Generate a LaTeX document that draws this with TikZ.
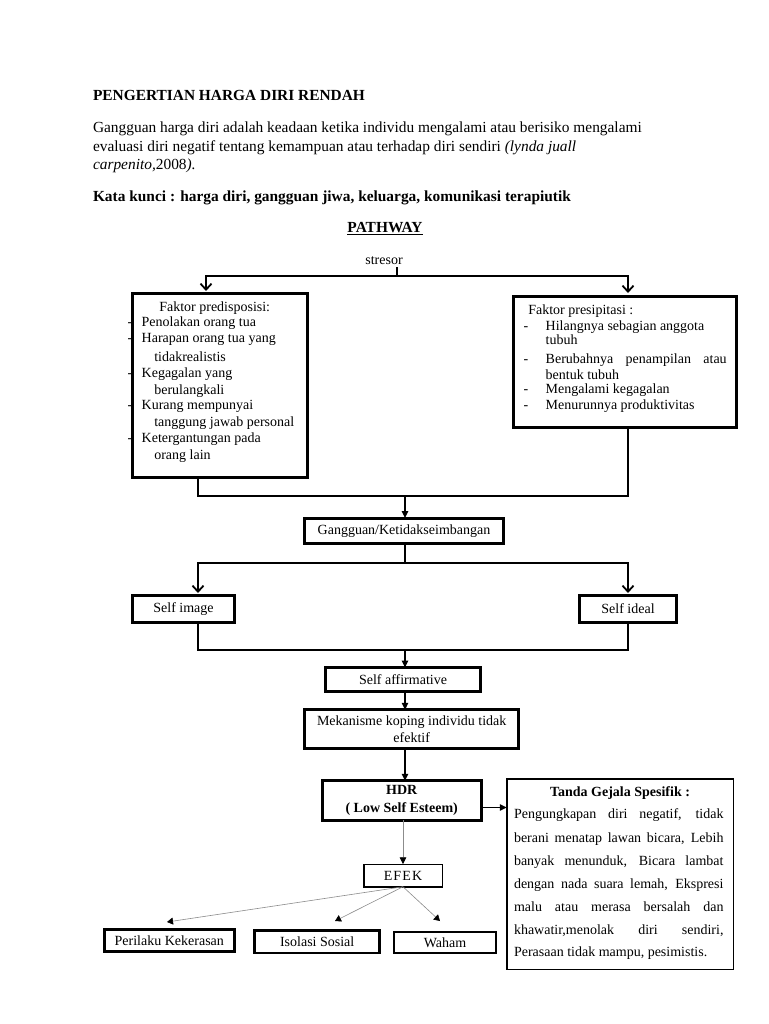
\documentclass[tikz,border=0pt]{standalone}
\usepackage{fontspec}
\setmainfont{Liberation Serif}
\usetikzlibrary{arrows.meta}
\tikzset{
  hd/.style={anchor=base west, inner sep=0pt, outer sep=0pt, font=\fontsize{15.4}{18}\selectfont},
  btxt/.style={anchor=base west, inner sep=0pt, outer sep=0pt, font=\fontsize{14}{17}\selectfont},
  thickbox/.style={draw, line width=3pt, inner sep=0pt, outer sep=0pt, align=center, font=\fontsize{14}{17.5}\selectfont},
  thinbox/.style={draw, line width=1.5pt, inner sep=0pt, outer sep=0pt, align=center, font=\fontsize{14}{17.5}\selectfont},
  conn/.style={line width=1.1pt},
  vtip/.style={conn, -{Straight Barb[length=6pt,width=11pt,line width=1.8pt]}},
  ftip/.style={conn, -{Triangle[length=7pt,width=6.5pt]}},
  gtip/.style={line width=0.9pt, draw=black!45, -{Triangle[length=7pt,width=6.5pt,color=black]}},
  etip/.style={line width=0.6pt, draw=black!45, -{Triangle[length=6pt,width=7pt,color=black]}}
}
\begin{document}
\begin{tikzpicture}[x=1pt,y=-1pt]
\fill[white] (0,0) rectangle (768,1024);
\useasboundingbox (0,0) rectangle (768,1024);

% ---------- header text ----------
\node[hd] (title) at (93,101) {\bfseries PENGERTIAN HARGA DIRI RENDAH};
\node[hd] (p1) at (93,133) {Gangguan harga diri adalah keadaan ketika individu mengalami atau berisiko mengalami};
\node[hd] (p2) at (93,152) {evaluasi diri negatif tentang kemampuan atau terhadap diri sendiri \textit{(lynda juall}};
\node[hd] (p3) at (93,170) {\textit{carpenito,}2008\textit{).}};
\node[hd] (kk) at (93,202) {\bfseries Kata kunci : harga diri, gangguan jiwa, keluarga, komunikasi terapiutik};
\node[hd, anchor=base] (pw) at (385,233) {\bfseries\underline{PATHWAY}};
\node[btxt, anchor=base] (stresor) at (384,264) {stresor};

% ---------- boxes ----------
\node[thickbox, minimum width=175pt, minimum height=184pt] (pred) at (220,385.5) {};
\node[thickbox, minimum width=223pt, minimum height=131pt] (presi) at (625,361.5) {};
\node[thickbox, minimum width=199pt, minimum height=25.5pt] (gang) at (404,530.75) {Gangguan/Ketidakseimbangan};
\node[thickbox, minimum width=102pt, minimum height=27pt] (simg) at (183.5,609) {Self image};
\node[thickbox, minimum width=97pt, minimum height=27pt] (sidl) at (628,609) {Self ideal};
\node[thickbox, line width=2.6pt, minimum width=155pt, minimum height=24pt] (saff) at (403,679.5) {Self affirmative};
\node[thickbox, minimum width=213.7pt, minimum height=38.7pt] (meka) at (411.7,729.2) {Mekanisme koping individu tidak\\efektif};
\node[thickbox, minimum width=159pt, minimum height=39.4pt, font=\fontsize{14}{17.5}\selectfont\bfseries] (hdr) at (401.7,800.5) {HDR\\( Low Self Esteem)};
\node[thinbox, minimum width=78.5pt, minimum height=22.5pt] (efek) at (403,875.5) {\addfontfeature{LetterSpace=8}EFEK};
\node[thinbox, minimum width=226.5pt, minimum height=190.5pt] (tanda) at (620,874) {};
\node[thickbox, line width=2.6pt, minimum width=130pt, minimum height=21.6pt] (peri) at (169.3,940.5) {Perilaku Kekerasan};
\node[thickbox, line width=2.6pt, minimum width=125pt, minimum height=22.5pt] (isol) at (317.2,941.7) {Isolasi Sosial};
\node[thickbox, line width=2.6pt, minimum width=102pt, minimum height=21pt] (waham) at (445,942.5) {Waham};

% ---------- text of Faktor predisposisi ----------
\node[btxt] (a0) at (159.3,311) {Faktor predisposisi:};
\node[btxt] (a1) at (141.7,326) {Penolakan orang tua};
\node[btxt] (a2) at (141.7,342) {Harapan orang tua yang};
\node[btxt] (a3) at (154.3,361) {tidakrealistis};
\node[btxt] (a4) at (141.7,377) {Kegagalan yang};
\node[btxt] (a5) at (154.3,394) {berulangkali};
\node[btxt] (a6) at (141.7,409.5) {Kurang mempunyai};
\node[btxt] (a7) at (154.3,426) {tanggung jawab personal};
\node[btxt] (a8) at (141.7,442) {Ketergantungan pada};
\node[btxt] (a9) at (154.3,459.5) {orang lain};
\foreach \yy/\nn in {326/d1,342/d2,377/d3,409.5/d4,442/d5}
  \node[btxt] (\nn) at (127.5,\yy) {-};

% ---------- text of Faktor presipitasi ----------
\node[btxt] (b0) at (528.3,314.5) {Faktor presipitasi :};
\node[btxt] (b1) at (545.7,330) {Hilangnya sebagian anggota};
\node[btxt] (b2) at (545.7,344.5) {tubuh};
\node[btxt] (b3) at (545.7,363.5) {\makebox[181pt][s]{Berubahnya penampilan atau}};
\node[btxt] (b4) at (545.7,379) {bentuk tubuh};
\node[btxt] (b5) at (545.7,393.5) {Mengalami kegagalan};
\node[btxt] (b6) at (545.7,409) {Menurunnya produktivitas};
\foreach \yy/\nn in {330/c1,363.5/c2,393.5/c3,409/c4}
  \node[btxt] (\nn) at (523.5,\yy) {-};

% ---------- text of Tanda Gejala Spesifik ----------
\node[btxt, anchor=base] (tg0) at (620,796) {\bfseries Tanda Gejala Spesifik :};
\node[btxt] (tg1) at (514,818.5) {\makebox[209.5pt][s]{Pengungkapan diri negatif, tidak}};
\node[btxt] (tg2) at (514,842) {\makebox[209.5pt][s]{berani menatap lawan bicara, Lebih}};
\node[btxt] (tg3) at (514,865) {\makebox[209.5pt][s]{banyak menunduk, Bicara lambat}};
\node[btxt] (tg4) at (514,888) {\makebox[209.5pt][s]{dengan nada suara lemah, Ekspresi}};
\node[btxt] (tg5) at (514,911) {\makebox[209.5pt][s]{malu atau merasa bersalah dan}};
\node[btxt] (tg6) at (514,934) {\makebox[209.5pt][s]{khawatir,menolak diri sendiri,}};
\node[btxt] (tg7) at (514,956) {Perasaan tidak mampu, pesimistis.};

% ---------- connectors ----------
\coordinate (j0) at (397,276);
\coordinate (pt1) at (206,291);
\coordinate (pt2) at (628,293);
\draw[conn] (stresor.south -| j0) ++(0,3) -- (j0);
\draw[vtip] (j0) -| (pt1);
\draw[vtip] (j0) -| (pt2);

\coordinate (j1) at (405,496);
\draw[conn] ([xshift=-22pt]pred.south) |- (j1) -| (presi.south -| pt2);
\draw[ftip] (j1) -- (gang.north -| j1);

\coordinate (j2) at (405,563);
\coordinate (pt3) at (198,593);
\coordinate (pt4) at (628,593);
\draw[conn] (gang.south -| j2) -- (j2);
\draw[vtip] (j2) -| (pt3);
\draw[vtip] (j2) -| (pt4);

\coordinate (j3) at (405,650);
\draw[conn] (simg.south -| pt3) |- (j3) -| (sidl.south);
\draw[ftip] (j3) -- (saff.north -| j3);
\draw[ftip] (saff.south -| j3) -- (meka.north -| j3);
\draw[ftip] (meka.south -| j3) -- (hdr.north -| j3);
\draw[ftip] ([yshift=-7pt]hdr.east) -- ([yshift=-7pt]hdr.east -| tanda.west);
\draw[gtip] (hdr.south -| efek) -- (efek.north);

\coordinate (e1) at (167,922);
\coordinate (e2) at (335,921);
\coordinate (e3) at (440,921);
\draw[etip] (efek.south) -- (e1);
\draw[etip] (efek.south) -- (e2);
\draw[etip] (efek.south) -- (e3);
\end{tikzpicture}
\end{document}
